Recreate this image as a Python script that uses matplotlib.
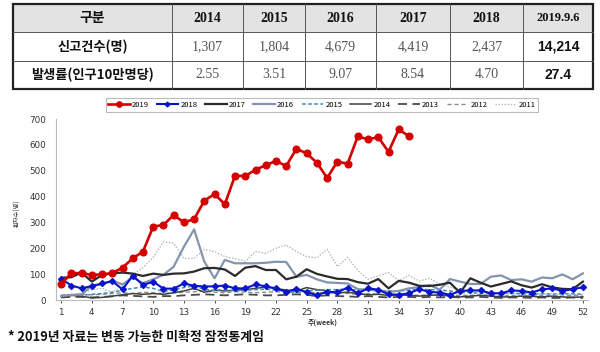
import numpy as np
import matplotlib
matplotlib.use("Agg")
import matplotlib.pyplot as plt
from matplotlib.patches import Rectangle

plt.rcParams['font.family'] = ['Noto Sans CJK KR', 'DejaVu Sans']

# table data
table_head = ["구분", "2014", "2015", "2016", "2017", "2018", "2019.9.6"]
row_labels = ["신고건수(명)", "발생률(인구10만명당)"]
reports = ["1,307", "1,804", "4,679", "4,419", "2,437", "14,214"]
rates = ["2.55", "3.51", "9.07", "8.54", "4.70", "27.4"]

# weekly data
y2019 = [61, 104, 104, 97, 99, 104, 125, 161, 187, 284, 290, 329, 300, 313, 384, 410, 370, 481,
         479, 504, 521, 538, 518, 585, 567, 531, 472, 535, 527, 633, 621, 630, 573, 660, 633]
y2018 = [82, 56, 45, 54, 64, 73, 41, 94, 58, 71, 44, 44, 64, 55, 52, 53, 56, 45, 45, 60, 53, 45,
         32, 43, 30, 19, 32, 30, 48, 26, 45, 40, 22, 20, 26, 42, 31, 29, 20, 35, 37, 37, 26, 26,
         37, 35, 29, 41, 45, 35, 42, 49]
y2017 = [86, 88, 106, 71, 97, 103, 106, 102, 93, 102, 97, 102, 103, 110, 123, 124, 118, 93, 125,
         131, 116, 116, 80, 90, 119, 101, 91, 82, 81, 69, 63, 81, 45, 74, 67, 55, 54, 59, 67, 28,
         84, 67, 52, 62, 72, 57, 48, 61, 49, 43, 42, 71]
y2016 = [15, 20, 22, 55, 60, 75, 60, 88, 65, 80, 97, 129, 206, 273, 148, 84, 155, 142, 142, 142,
         144, 148, 147, 90, 97, 80, 68, 66, 64, 42, 40, 36, 32, 35, 45, 50, 58, 40, 81, 71, 62,
         62, 90, 95, 77, 80, 71, 87, 84, 99, 80, 103]
y2015 = [18, 20, 18, 22, 25, 30, 38, 45, 50, 45, 33, 39, 48, 55, 40, 38, 40, 35, 38, 40, 42, 38,
         35, 30, 35, 38, 40, 40, 42, 38, 40, 38, 35, 35, 38, 42, 40, 38, 35, 30, 28, 26, 25, 28,
         25, 24, 22, 25, 22, 25, 24, 22]
y2014 = [15, 18, 15, 8, 10, 15, 20, 25, 22, 25, 22, 28, 35, 45, 30, 38, 35, 38, 40, 45, 50, 45,
         38, 35, 48, 40, 35, 28, 30, 25, 20, 22, 18, 20, 18, 15, 18, 20, 15, 12, 15, 18, 15, 12,
         12, 15, 14, 12, 15, 12, 10, 12]
y2013 = [10, 12, 12, 10, 12, 14, 18, 16, 14, 12, 15, 15, 18, 20, 22, 20, 18, 20, 22, 20, 18, 18,
         20, 22, 20, 15, 18, 15, 14, 12, 15, 12, 10, 12, 12, 10, 12, 10, 12, 10, 10, 12, 10, 8,
         10, 10, 8, 10, 8, 8, 10, 8]
y2012 = [18, 20, 22, 20, 22, 25, 28, 25, 30, 28, 25, 28, 30, 32, 35, 30, 28, 32, 30, 28, 30, 32,
         30, 28, 30, 28, 25, 28, 25, 22, 25, 22, 20, 22, 20, 18, 20, 18, 20, 18, 18, 20, 18, 15,
         18, 15, 15, 18, 15, 15, 18, 15]
y2011 = [10, 15, 25, 40, 45, 30, 55, 100, 125, 165, 225, 220, 161, 161, 196, 187, 168, 160, 150,
         187, 180, 200, 213, 187, 168, 163, 196, 129, 165, 114, 80, 93, 106, 75, 95, 73, 84, 62,
         49, 40, 35, 30, 28, 25, 25, 28, 25, 22, 25, 22, 20, 22]

fig = plt.figure(figsize=(6, 3.52), dpi=100)

# ---- table drawn in pixel coords
tab = fig.add_axes([0, 0, 1, 1])
tab.set_xlim(0, 600)
tab.set_ylim(352, 0)
tab.axis("off")
cols = [13, 172, 243, 305, 376, 450, 523, 593]
rows = [4, 32, 61, 89]
tab.add_patch(Rectangle((cols[0], rows[0]), cols[-1] - cols[0], rows[1] - rows[0],
                        facecolor="#e3e3e3", edgecolor="none"))
for c in cols[1:-1]:
    tab.plot([c, c], [rows[0], rows[-1]], color="#555555", lw=0.7)
for r in rows[1:-1]:
    tab.plot([cols[0], cols[-1]], [r, r], color="#555555", lw=0.7)
tab.add_patch(Rectangle((cols[0], rows[0]), cols[-1] - cols[0], rows[-1] - rows[0],
                        facecolor="none", edgecolor="#222222", lw=1.6))
for i, h in enumerate(table_head):
    xc = (cols[i] + cols[i + 1]) / 2
    fs = 10 if i < 6 else 9
    tab.text(xc, (rows[0] + rows[1]) / 2, h, ha="center", va="center", fontsize=fs,
             fontweight="bold", color="#111111",
             family=['Noto Sans CJK KR'] if i == 0 else ['Liberation Serif', 'DejaVu Serif'])
for j, (lab, vals) in enumerate(zip(row_labels, [reports, rates])):
    yc = (rows[j + 1] + rows[j + 2]) / 2
    tab.text((cols[0] + cols[1]) / 2, yc, lab, ha="center", va="center", fontsize=9.5,
             fontweight="bold", color="#111111")
    for i, v in enumerate(vals):
        xc = (cols[i + 1] + cols[i + 2]) / 2
        if i == 5:
            tab.text(xc, yc, v, ha="center", va="center", fontsize=10, fontweight="bold",
                     color="#111111", family=['Liberation Sans'])
        else:
            tab.text(xc, yc, v, ha="center", va="center", fontsize=10, color="#555555",
                     family=['Liberation Serif', 'DejaVu Serif'])

tab.text(8, 337, "* 2019년 자료는 변동 가능한 미확정 잠정통계임", ha="left", va="center",
         fontsize=9.3, fontweight="bold", color="#111111")

# ---- line chart
ax = fig.add_axes([56 / 600, 1 - 300 / 352, (588 - 56) / 600, (300 - 119) / 352])
w = np.arange(1, 53)
ax.plot(np.arange(1, len(y2019) + 1), y2019, color="#d40000", lw=1.9, marker="o", ms=4.8,
        label="2019", zorder=10)
ax.plot(w, y2018, color="#0a14c8", lw=1.5, marker="D", ms=3.0, label="2018", zorder=9)
ax.plot(w, y2017, color="#2b2b2b", lw=1.6, label="2017", zorder=8)
ax.plot(w, y2016, color="#8395ae", lw=1.6, label="2016", zorder=7)
ax.plot(w, y2015, color="#3e8cc4", lw=1.1, ls=(0, (2.5, 1.5)), label="2015", zorder=6)
ax.plot(w, y2014, color="#404040", lw=1.1, label="2014", zorder=5)
ax.plot(w, y2013, color="#4a4a4a", lw=1.3, ls=(0, (5, 3)), label="2013", zorder=4)
ax.plot(w, y2012, color="#8c8c8c", lw=1.0, ls=(0, (3, 2)), label="2012", zorder=3)
ax.plot(w, y2011, color="#b5b5b5", lw=1.0, ls=(0, (1, 1.2)), label="2011", zorder=2)

ax.set_xlim(0.5, 52.5)
ax.set_ylim(0, 700)
ax.set_xticks(np.arange(1, 53, 3))
ax.set_yticks(np.arange(0, 701, 100))
ax.tick_params(axis="both", labelsize=6.3, colors="#333333", length=2.5, width=0.6)
ax.tick_params(axis="y", length=0, pad=7)
for s in ["top", "right"]:
    ax.spines[s].set_visible(False)
for s in ["left", "bottom"]:
    ax.spines[s].set_color("#bbbbbb")
    ax.spines[s].set_linewidth(0.8)
for lbl in ax.get_xticklabels() + ax.get_yticklabels():
    lbl.set_family("DejaVu Sans")

fig.text(17 / 600, 1 - 213 / 352, "환자수(명)", rotation=90, fontsize=4.5, ha="center",
         va="center", color="#333333")
fig.text(308 / 600, 1 - 322 / 352, "주(week)", fontsize=5, ha="left", va="center",
         color="#333333", fontweight="bold")

leg = ax.legend(ncol=9, loc="center", bbox_to_anchor=(322 / 600, 1 - 105 / 352),
                bbox_transform=fig.transFigure, fontsize=5.5, frameon=True, fancybox=False,
                handlelength=2.8, handletextpad=0.3, columnspacing=1.0, borderpad=0.35,
                markerscale=0.8)
leg.get_frame().set_edgecolor("#aaaaaa")
leg.get_frame().set_linewidth(0.8)

fig.savefig("out.png", dpi=100)
